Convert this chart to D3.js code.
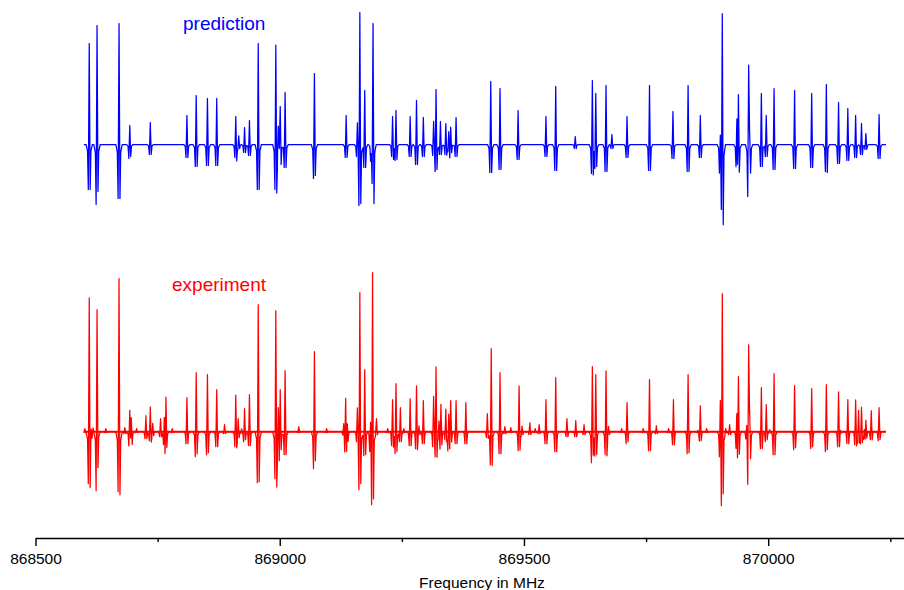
<!DOCTYPE html>
<html>
<head>
<meta charset="utf-8">
<script src="https://d3js.org/d3.v7.min.js"></script>
<style>
	html, body { margin: 0; background: #fff; }
	svg { display: block; font-family: "Liberation Sans", Arial, sans-serif; }
</style>
</head>
<body>
<svg width="904" height="590"></svg>
<script>
"use strict";
// line positions in MHz, peak heights and the two negative lobes
const predFreq = [868610,868626,868671,868693,868735,868810,868829,868852,868871,868910,868916,868928,868938,868956,868992,868997,869001,869011,869071,869136,869159,869164,869174,869188,869191,869231,869238,869267,869280,869294,869315,869320,869329,869340,869346,869350,869361,869432,869451,869488,869545,869565,869605,869640,869647,869668,869680,869711,869757,869805,869836,869861,869902,869906,869936,869939,869960,869962,869986,869996,870012,870054,870089,870119,870144,870163,870179,870191,870200,870227];
const predPeak = [101,119,121,19,22,29,49,46,46,28,9,17,24,101,100,22,38,52,71,29,26,132,54,0,121,28,34,28,44,27,25,55,23,21,14,18,27,63,56,34,28,58,8,64,51,59,10,28,59,33,59,29,16,132,38,54,87,17,51,29,56,54,51,60,42,36,29,21,11,30];
const predLobeL = [45,60,54,14,10,13,22,21,21,13,4,8,11,45,45,10,4,23,34,13,12,61,23,14,39,12,15,12,20,12,11,27,10,10,6,8,12,28,25,15,12,26,4,29,22,27,4,13,26,14,27,13,27,56,20,30,51,8,22,12,25,24,23,27,19,16,13,10,5,14];
const predLobeR = [45,47,54,12,10,13,22,21,21,16,4,8,11,45,45,0,20,23,31,13,0,59,23,0,59,14,15,12,20,12,0,25,10,10,6,8,12,28,25,15,12,26,4,29,22,27,4,13,26,14,27,13,10,80,10,27,5,28,22,12,25,24,23,28,19,16,13,10,5,14];

const expFreq = [868601,868610,868614,868618,868626,868644,868671,868683,868693,868696,868707,868726,868735,868740,868756,868764,868767,868780,868810,868829,868852,868871,868887,868910,868915,868922,868928,868938,868956,868992,868997,869001,869011,869039,869071,869096,869131,869135,869138,869159,869164,869174,869186,869190,869198,869221,869231,869238,869247,869254,869267,869280,869285,869294,869315,869320,869326,869330,869340,869346,869350,869361,869381,869425,869433,869451,869461,869473,869490,869496,869512,869523,869531,869545,869565,869588,869606,869623,869640,869647,869668,869673,869700,869711,869744,869757,869771,869796,869806,869836,869856,869861,869874,869902,869906,869913,869921,869936,869939,869956,869960,869962,869986,869996,870003,870012,870054,870089,870119,870144,870148,870163,870179,870185,870191,870197,870200,870211,870227];
const expPeak = [3,134,9,4,122,3,153,4,23,19,3,16,25,9,13,25,39,3,34,59,57,42,7,37,14,3,23,37,127,122,31,42,61,5,80,3,10,37,17,28,139,62,18,159,13,3,32,48,24,3,33,46,7,31,37,65,13,28,23,19,32,31,29,18,83,59,5,4,46,6,9,3,7,32,54,13,11,7,65,57,61,7,3,29,3,52,6,3,32,57,2,26,3,40,138,3,7,33,58,12,97,45,44,27,2,58,46,43,47,40,3,32,32,22,25,5,14,21,24];
const expLobeL = [1,52,1,1,59,1,60,2,14,4,1,7,9,4,5,11,26,1,12,25,23,15,2,15,6,1,10,14,51,47,15,29,23,1,37,1,3,17,8,10,58,24,18,73,3,1,14,21,10,1,14,17,3,12,15,25,5,13,8,18,10,12,12,6,33,22,2,1,19,3,3,1,2,12,20,5,5,3,31,23,23,3,1,12,1,19,2,1,13,22,1,9,1,23,74,1,3,14,36,6,46,10,17,10,1,23,18,17,20,15,1,12,13,10,11,6,6,8,9];
const expLobeR = [1,55,4,1,36,1,63,2,12,12,1,7,9,4,5,11,15,1,12,22,21,15,2,14,6,1,8,14,50,50,0,18,23,1,29,1,3,22,8,0,52,23,0,67,3,1,14,20,10,1,14,17,3,12,0,25,5,13,8,8,10,12,12,6,34,22,2,1,18,3,3,1,2,12,20,5,5,3,22,23,23,3,1,10,1,19,2,1,13,21,1,9,1,0,62,1,3,7,22,6,25,24,17,8,1,23,16,15,18,14,1,12,13,10,10,6,6,8,8];

const majorTicks = [868500,869000,869500,870000];
const minorTicks = [868750,869250,869750,870250];
const traceStart = 868599, traceEnd = 870241;

const svg = d3.select("svg");

const x = d3.scaleLinear().domain([868500, 870278]).range([35.5, 904]);
const yPred = d3.scaleLinear().domain([0, 100]).range([144.5, 44.5]);
const yExp = d3.scaleLinear().domain([0, 100]).range([431.7, 331.7]);

// shape of one line around its centre, in MHz
const shapeOffsets = [-6.5, -3.5, -1.9, 0, 1.9, 3.5, 6.5];

function traceOf(freq, peak, lobeL, lobeR) {
	const shapes = freq.map((f, i) => d3.scaleLinear()
		.domain(shapeOffsets.map(o => f + o))
		.range([0, -0.14 * lobeL[i], -lobeL[i], peak[i], -lobeR[i], -0.14 * lobeR[i], 0])
		.clamp(true));
	const xs = [traceStart, traceEnd];
	freq.forEach(f => shapeOffsets.forEach(o => xs.push(f + o)));
	xs.sort(d3.ascending);
	return d3.groups(xs.filter(v => v >= traceStart && v <= traceEnd), d => d)
		.map(g => [g[0], d3.sum(shapes, s => s(g[0]))]);
}

function drawTrace(points, yScale, color) {
	const line = d3.line().x(d => x(d[0])).y(d => yScale(d[1]));
	svg.append("path")
		.attr("d", line(points))
		.attr("fill", "none")
		.attr("stroke", color)
		.attr("stroke-width", 1.25)
		.attr("stroke-linejoin", "round");
}

drawTrace(traceOf(predFreq, predPeak, predLobeL, predLobeR), yPred, "#0000ff");

// the measured baseline is noisy, at this size that is a thicker line
svg.append("line")
	.attr("x1", x(traceStart)).attr("x2", x(traceEnd))
	.attr("y1", yExp(0)).attr("y2", yExp(0))
	.attr("stroke", "#ff0000")
	.attr("stroke-width", 2);
drawTrace(traceOf(expFreq, expPeak, expLobeL, expLobeR), yExp, "#ff0000");

svg.append("text").text("prediction")
	.attr("x", 183).attr("y", 30)
	.attr("font-size", 19).attr("fill", "#0000ff");
svg.append("text").text("experiment")
	.attr("x", 172).attr("y", 291)
	.attr("font-size", 19).attr("fill", "#ff0000");

const axisY = 538;
const axis = svg.append("g")
	.attr("transform", `translate(0, ${axisY})`)
	.call(d3.axisBottom(x).tickValues(majorTicks).tickSize(8).tickSizeOuter(0).tickPadding(7).tickFormat(d3.format("d")));
axis.select(".domain").attr("stroke", "#000").attr("stroke-width", 1.4);
axis.selectAll(".tick line").attr("stroke-width", 1.4);
axis.selectAll("text").attr("font-size", 15.5).attr("font-family", "Liberation Sans").attr("fill", "#000");

const minor = svg.append("g")
	.attr("transform", `translate(0, ${axisY})`)
	.call(d3.axisBottom(x).tickValues(minorTicks).tickSize(4).tickSizeOuter(0).tickFormat(""));
minor.select(".domain").remove();
minor.selectAll(".tick line").attr("stroke-width", 1.4);

svg.append("text").text("Frequency in MHz")
	.attr("x", 482).attr("y", 588)
	.attr("text-anchor", "middle")
	.attr("font-size", 15.5).attr("fill", "#000");
</script>
</body>
</html>
